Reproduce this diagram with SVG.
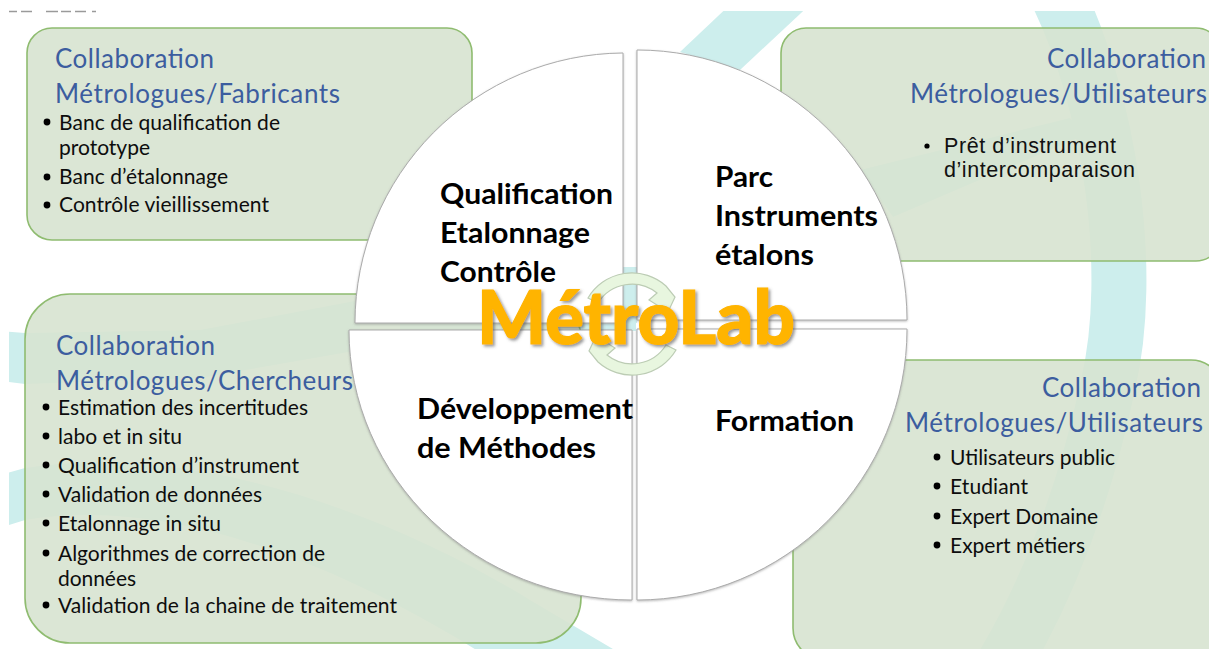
<svg xmlns="http://www.w3.org/2000/svg" width="1209" height="649" viewBox="0 0 1209 649">
<style>
text{font-family:Lato,"Open Sans",Carlito,sans-serif}
.box{fill:rgb(215,227,208);fill-opacity:.9;stroke:#8fbc70;stroke-width:1.6}
.h{font-size:26px;fill:#3c5d9f}
.li{font-size:21px;fill:#0d0d0d}
.ar{font-size:21.5px;fill:#111;font-family:"Liberation Sans",Arial,sans-serif}
.b{font-size:29px;font-weight:700;fill:#000}
.q{fill:#fff;stroke:#ababab;stroke-width:1;filter:url(#qs)}
.dot{fill:#000}
.teal{fill:#cdeeed}
.cyc{fill:#e8f6df;stroke:#bcccb4;stroke-width:1.2}
#logo{font-size:74px;font-weight:900;fill:#ffb400;stroke:#ffb400;stroke-width:1.2;filter:url(#ls)}
</style>
<defs>
<filter id="qs" x="-5%" y="-5%" width="110%" height="110%"><feDropShadow dx="0" dy="1" stdDeviation="1" flood-color="#777" flood-opacity=".5"/></filter>
<filter id="ls" x="-5%" y="-15%" width="110%" height="130%"><feDropShadow dx="2" dy="2" stdDeviation="1.6" flood-color="#555" flood-opacity=".6"/></filter>
<clipPath id="pg"><rect x="9" y="11" width="1200" height="638"/></clipPath>
</defs>
<rect width="1209" height="649" fill="#fff"/>
<g id="background" clip-path="url(#pg)">
<path class="teal" d="M735,0H815L740,70L680,52Z"/>
<path d="M1055,-10C1110,100 1135,270 1108,385C1090,470 1060,570 1000,670" fill="none" stroke="#cdeeed" stroke-width="55"/>
<path class="teal" d="M860,170L1070,118L1085,135L893,217Z"/>
<path class="teal" d="M0,331L25,333L200,330L360,300L360,350L200,378L25,384L0,381Z"/>
<path class="teal" d="M0,475L25,468C200,440 400,520 530,600L640,665H500C400,600 200,490 25,520L0,528Z"/>
<rect class="teal" x="400" y="322" width="236" height="9"/>
<rect class="teal" x="623" y="267" width="14" height="56"/>
</g>
<path id="crop-fragment" d="M9,11.5h8M21,11.5h11M46,11.5h12M61,11.5h10M75,11.5h11M92,11.5h4" stroke="#9a9a9a" stroke-width="1.4" fill="none"/>
<g id="box-fabricants"><rect class="box" x="27" y="28" width="445" height="212" rx="25"/></g>
<g id="box-utilisateurs-1"><rect class="box" x="781" y="28" width="440" height="233" rx="25"/></g>
<g id="box-chercheurs"><rect class="box" x="25" y="294" width="556" height="349" rx="45"/></g>
<g id="box-utilisateurs-2"><rect class="box" x="793" y="360" width="430" height="300" rx="32"/></g>
<g id="connectors"></g>
<g id="wheel">
<path class="q" d="M623,53V323H355A270,270 0 0 1 623,53Z"/>
<path class="q" d="M637,50V320H907A270,270 0 0 0 637,50Z"/>
<path class="q" d="M632,330V600A283,270 0 0 1 349,330Z"/>
<path class="q" d="M637,329H907A270,271 0 0 1 637,600Z"/>
</g>
<g id="text-fabricants">
<text class="h" x="55" y="68" textLength="159">Collaboration</text>
<text class="h" x="55" y="103" textLength="285">Métrologues/Fabricants</text>
<circle class="dot" cx="47" cy="122" r="3.4"/><circle class="dot" cx="47" cy="177" r="3.4"/><circle class="dot" cx="47" cy="205" r="3.4"/>
<text class="li" x="59" y="130" textLength="221">Banc de qualification de</text>
<text class="li" x="59" y="155" textLength="91">prototype</text>
<text class="li" x="59" y="184" textLength="169">Banc d’étalonnage</text>
<text class="li" x="59" y="212" textLength="210">Contrôle vieillissement</text>
</g>
<g id="text-utilisateurs-1">
<text class="h" x="1047" y="68" textLength="159">Collaboration</text>
<text class="h" x="910" y="103" textLength="297">Métrologues/Utilisateurs</text>
<circle class="dot" cx="927" cy="146" r="2.6"/>
<text class="ar" x="944" y="153" textLength="172">Prêt d’instrument</text>
<text class="ar" x="944" y="177" textLength="191">d’intercomparaison</text>
</g>
<g id="text-chercheurs">
<text class="h" x="56" y="355" textLength="159">Collaboration</text>
<text class="h" x="56" y="390" textLength="297">Métrologues/Chercheurs</text>
<circle class="dot" cx="46" cy="407" r="3.4"/><circle class="dot" cx="46" cy="436" r="3.4"/><circle class="dot" cx="46" cy="465" r="3.4"/><circle class="dot" cx="46" cy="494" r="3.4"/><circle class="dot" cx="46" cy="523" r="3.4"/><circle class="dot" cx="46" cy="553" r="3.4"/><circle class="dot" cx="46" cy="605" r="3.4"/>
<text class="li" x="58" y="415" textLength="250">Estimation des incertitudes</text>
<text class="li" x="58" y="444" textLength="124">labo et in situ</text>
<text class="li" x="58" y="473" textLength="241">Qualification d’instrument</text>
<text class="li" x="58" y="502" textLength="204">Validation de données</text>
<text class="li" x="58" y="531" textLength="163">Etalonnage in situ</text>
<text class="li" x="58" y="561" textLength="267">Algorithmes de correction de</text>
<text class="li" x="58" y="586" textLength="78">données</text>
<text class="li" x="58" y="613" textLength="339">Validation de la chaine de traitement</text>
</g>
<g id="text-utilisateurs-2">
<text class="h" x="1042" y="397" textLength="159">Collaboration</text>
<text class="h" x="905" y="432" textLength="298">Métrologues/Utilisateurs</text>
<circle class="dot" cx="937" cy="457" r="3.4"/><circle class="dot" cx="937" cy="486" r="3.4"/><circle class="dot" cx="937" cy="516" r="3.4"/><circle class="dot" cx="937" cy="545" r="3.4"/>
<text class="li" x="950" y="465" textLength="165">Utilisateurs public</text>
<text class="li" x="950" y="494" textLength="78">Etudiant</text>
<text class="li" x="950" y="524" textLength="148">Expert Domaine</text>
<text class="li" x="950" y="553" textLength="135">Expert métiers</text>
</g>
<g id="labels">
<text class="b" x="440" y="204" textLength="173" lengthAdjust="spacingAndGlyphs">Qualification</text>
<text class="b" x="440" y="243" textLength="150" lengthAdjust="spacingAndGlyphs">Etalonnage</text>
<text class="b" x="440" y="282" textLength="116" lengthAdjust="spacingAndGlyphs">Contrôle</text>
<text class="b" x="715" y="187" textLength="58" lengthAdjust="spacingAndGlyphs">Parc</text>
<text class="b" x="715" y="226" textLength="163" lengthAdjust="spacingAndGlyphs">Instruments</text>
<text class="b" x="715" y="265" textLength="99" lengthAdjust="spacingAndGlyphs">étalons</text>
<text class="b" x="417" y="419" textLength="216" lengthAdjust="spacingAndGlyphs">Développement</text>
<text class="b" x="417" y="458" textLength="179" lengthAdjust="spacingAndGlyphs">de Méthodes</text>
<text class="b" x="715" y="431" textLength="139" lengthAdjust="spacingAndGlyphs">Formation</text>
</g>
<g id="cycle">
<path class="cyc" d="M588,298A51,51 0 0 1 666,286L675,297L668,312L649,300L657,293A40,40 0 0 0 598,303Z"/>
<path class="cyc" d="M588,298A51,51 0 0 1 666,286L675,297L668,312L649,300L657,293A40,40 0 0 0 598,303Z" transform="rotate(180 632 324)"/>
</g>
<text id="logo" x="477" y="344" textLength="318" lengthAdjust="spacingAndGlyphs">MétroLab</text>
</svg>
